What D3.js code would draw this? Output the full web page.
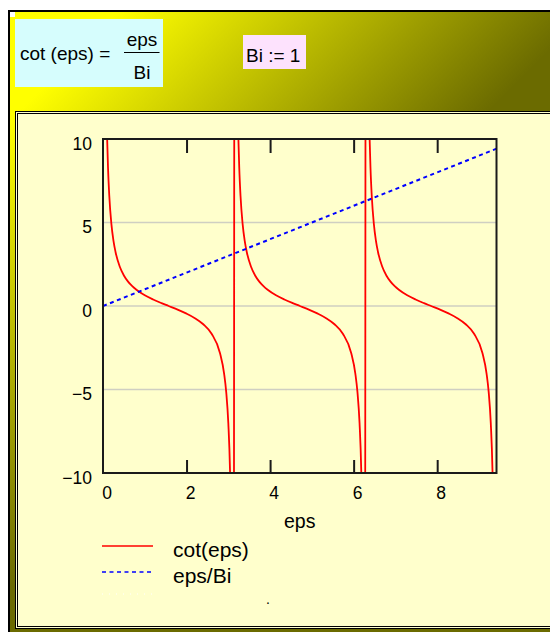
<!DOCTYPE html>
<html>
<head>
<meta charset="utf-8">
<script src="https://cdn.jsdelivr.net/npm/d3@7/dist/d3.min.js"></script>
<style>
  html, body { margin: 0; padding: 0; background: #ffffff; }
  svg { display: block; }
  text { font-family: "Liberation Sans", Arial, Helvetica, sans-serif; fill: #000; }
</style>
</head>
<body>
<svg id="sheet" width="550" height="632"></svg>
<script>
// ---- data ---------------------------------------------------------------
const biValue = 1;
const xDomain = [0, 9.42];
const yDomain = [-10, 10];
const xTicks = [0, 2, 4, 6, 8];
const yTicks = [10, 5, 0, -5, -10];
const gridValues = [5, 0, -5];

// cot(eps) trace, sampled along eps (one connected trace across the poles)
const cotEps = [
  0.08, 0.10, 0.12, 0.15, 0.20, 0.25, 0.30, 0.40, 0.50, 0.60, 0.70, 0.80,
  1.00, 1.20, 1.40, 1.571, 1.80, 2.00, 2.20, 2.40, 2.60, 2.80, 2.90, 2.95,
  3.00, 3.04, 3.08, 3.12,
  3.16, 3.2216, 3.2416, 3.2616, 3.2916, 3.3416, 3.3916, 3.4416, 3.5416,
  3.6416, 3.7416, 3.8416, 3.9416, 4.1416, 4.3416, 4.5416, 4.7124, 4.9416,
  5.1416, 5.3416, 5.5416, 5.7416, 5.9416, 6.0416, 6.0916, 6.1416, 6.1816,
  6.2216, 6.2616,
  6.3016, 6.3632, 6.3832, 6.4032, 6.4332, 6.4832, 6.5332, 6.5832, 6.6832,
  6.7832, 6.8832, 6.9832, 7.0832, 7.2832, 7.4832, 7.6832, 7.854, 8.0832,
  8.2832, 8.4832, 8.6832, 8.8832, 9.0832, 9.1832, 9.2332, 9.2832, 9.3232,
  9.3632, 9.42
];
const cotValues = [
  12.47, 9.967, 8.293, 6.617, 4.933, 3.916, 3.233, 2.365, 1.830, 1.462, 1.187, 0.971,
  0.642, 0.389, 0.172, 0, -0.233, -0.458, -0.728, -1.092, -1.662, -2.813, -4.058, -5.155,
  -7.015, -9.809, -16.21, -46.3,
  54.3, 12.47, 9.967, 8.293, 6.617, 4.933, 3.916, 3.233, 2.365,
  1.830, 1.462, 1.187, 0.971, 0.642, 0.389, 0.172, 0, -0.233,
  -0.458, -0.728, -1.092, -1.662, -2.813, -4.058, -5.155, -7.015, -9.809,
  -16.21, -46.3,
  54.3, 12.47, 9.967, 8.293, 6.617, 4.933, 3.916, 3.233, 2.365,
  1.830, 1.462, 1.187, 0.971, 0.642, 0.389, 0.172, 0, -0.233,
  -0.458, -0.728, -1.092, -1.662, -2.813, -4.058, -5.155, -7.015, -9.809,
  -16.21, -208
];

// eps/Bi trace
const lineEps = [0, 9.42];
const lineValues = [0, 9.42];

const legendLabels = ["cot(eps)", "eps/Bi"];

// ---- sheet background -----------------------------------------------------
const svg = d3.select("#sheet");
const defs = svg.append("defs");

const grad = defs.append("linearGradient")
  .attr("id", "sheetFill")
  .attr("gradientUnits", "userSpaceOnUse")
  .attr("x1", 65).attr("y1", 65).attr("x2", 300).attr("y2", 300);
grad.append("stop").attr("offset", 0).attr("stop-color", "#ffff00");
grad.append("stop").attr("offset", 1).attr("stop-color", "#6b6b00");

svg.append("rect").attr("x", 0).attr("y", 0).attr("width", 550).attr("height", 632).attr("fill", "#ffffff");
svg.append("rect")
  .attr("x", 9).attr("y", 11).attr("width", 600).attr("height", 700)
  .attr("fill", "url(#sheetFill)")
  .attr("stroke", "#000").attr("stroke-width", 2);
svg.append("rect").attr("x", 10).attr("y", 12).attr("width", 5).attr("height", 5).attr("fill", "#ffffff");

// ---- equation regions -----------------------------------------------------
svg.append("rect").attr("x", 15).attr("y", 19).attr("width", 148).attr("height", 68).attr("fill", "#d6fdfd");
svg.append("text").attr("x", 20).attr("y", 60).style("font-size", "19px").text("cot (eps) =");
svg.append("text").attr("x", 142).attr("y", 45.5).attr("text-anchor", "middle").style("font-size", "19px").text("eps");
svg.append("line").attr("x1", 124).attr("x2", 159.5).attr("y1", 52.5).attr("y2", 52.5)
  .attr("stroke", "#000").attr("stroke-width", 1.2);
svg.append("text").attr("x", 142).attr("y", 79).attr("text-anchor", "middle").style("font-size", "19px").text("Bi");

svg.append("rect").attr("x", 243).attr("y", 35).attr("width", 63).attr("height", 34).attr("fill", "#fde2fd");
svg.append("text").attr("x", 246).attr("y", 61.5).style("font-size", "19px").text("Bi := " + biValue);

// ---- plot region frame ----------------------------------------------------
svg.append("rect").attr("x", 15.5).attr("y", 111.5).attr("width", 600).attr("height", 517)
  .attr("fill", "#ffffcc").attr("stroke", "#000").attr("stroke-width", 1);
svg.append("rect").attr("x", 17.5).attr("y", 113.5).attr("width", 600).attr("height", 513)
  .attr("fill", "#ffffcc").attr("stroke", "#000").attr("stroke-width", 1);

// ---- scales ---------------------------------------------------------------
const plot = { left: 103, right: 496.5, top: 139, bottom: 473 };
const x = d3.scaleLinear().domain(xDomain).range([plot.left, plot.right]);
const y = d3.scaleLinear().domain(yDomain).range([plot.bottom, plot.top]);

defs.append("clipPath").attr("id", "plotClip")
  .append("rect")
  .attr("x", plot.left).attr("y", plot.top)
  .attr("width", plot.right - plot.left).attr("height", plot.bottom - plot.top);

// grid lines
svg.append("g").selectAll("line").data(gridValues).join("line")
  .attr("x1", plot.left).attr("x2", plot.right)
  .attr("y1", d => y(d)).attr("y2", d => y(d))
  .attr("stroke", "#cfcfc2").attr("stroke-width", 1.5);

// traces
const curveG = svg.append("g").attr("clip-path", "url(#plotClip)");
const cotPts = cotEps.map((e, i) => [e, cotValues[i]]);
curveG.append("path")
  .attr("d", d3.line().x(d => x(d[0])).y(d => y(d[1])).curve(d3.curveMonotoneX)(cotPts))
  .attr("fill", "none").attr("stroke", "#ff0000").attr("stroke-width", 1.8);

const linePts = lineEps.map((e, i) => [e, lineValues[i]]);
curveG.append("path")
  .attr("d", d3.line().x(d => x(d[0])).y(d => y(d[1]))(linePts))
  .attr("fill", "none").attr("stroke", "#0000ff").attr("stroke-width", 2)
  .attr("stroke-dasharray", "4,3.5");

// axis box
svg.append("rect")
  .attr("x", plot.left).attr("y", plot.top)
  .attr("width", plot.right - plot.left).attr("height", plot.bottom - plot.top)
  .attr("fill", "none").attr("stroke", "#1a1a1a").attr("stroke-width", 2);

// inner tick marks on the bottom and top edges
const innerTicks = xTicks.filter(d => d > xDomain[0]);
const xAxisBottom = d3.axisBottom(x).tickValues(innerTicks).tickSize(-13).tickFormat("");
const xAxisTop = d3.axisTop(x).tickValues(innerTicks).tickSize(-14).tickFormat("");
[svg.append("g").attr("transform", `translate(0,${plot.bottom})`).call(xAxisBottom),
 svg.append("g").attr("transform", `translate(0,${plot.top})`).call(xAxisTop)]
  .forEach(g => {
    g.select(".domain").remove();
    g.selectAll(".tick line").attr("stroke", "#1a1a1a").attr("stroke-width", 2);
  });

// tick labels
const fmt = d => (d < 0 ? "\u2212" + Math.abs(d) : String(d));
svg.append("g").selectAll("text").data(xTicks).join("text")
  .attr("x", d => x(d) + 4).attr("y", 499)
  .attr("text-anchor", "middle").style("font-size", "17.5px")
  .text(fmt);
svg.append("g").selectAll("text").data(yTicks).join("text")
  .attr("x", 92).attr("y", d => y(d) + 10.5)
  .attr("text-anchor", "end").style("font-size", "17.5px")
  .text(fmt);

// axis title
svg.append("text").attr("x", (plot.left + plot.right) / 2).attr("y", 528)
  .attr("text-anchor", "middle").style("font-size", "19.5px").text("eps");

// ---- legend ---------------------------------------------------------------
const legendStyles = [
  { color: "#ff0000", dash: null, width: 1.6 },
  { color: "#0000ff", dash: "4,3.5", width: 1.4 }
];
const legendY = [546, 572];
legendLabels.forEach((lab, i) => {
  svg.append("line")
    .attr("x1", 102).attr("x2", 153).attr("y1", legendY[i]).attr("y2", legendY[i])
    .attr("stroke", legendStyles[i].color).attr("stroke-width", legendStyles[i].width)
    .attr("stroke-dasharray", legendStyles[i].dash);
  svg.append("text").attr("x", 173).attr("y", legendY[i] + 11)
    .style("font-size", "21px").text(lab);
});
// empty third trace entry
svg.append("line").attr("x1", 102).attr("x2", 153).attr("y1", 594).attr("y2", 594)
  .attr("stroke", "#ffffff").attr("stroke-width", 1).attr("stroke-dasharray", "1,6");
svg.append("text").attr("x", 266).attr("y", 604).style("font-size", "14px").text(".");
</script>
</body>
</html>
